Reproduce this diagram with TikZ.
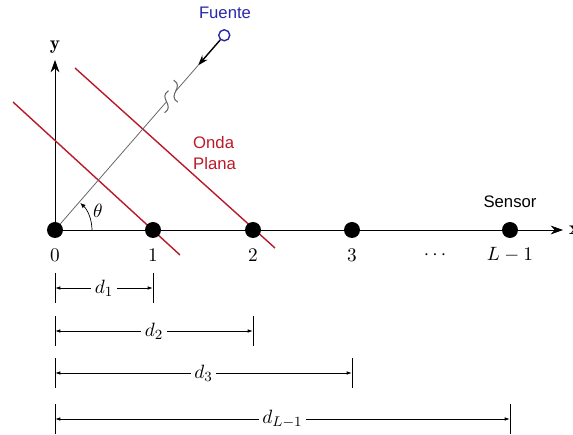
\documentclass[tikz,border=0pt]{standalone}
\usepackage{fontspec}
\newfontfamily\arial{Liberation Sans}
\usetikzlibrary{arrows.meta,calc}
\definecolor{rojo}{RGB}{185,25,40}
\definecolor{azul}{RGB}{40,40,170}
\tikzset{
	sensor/.style={circle, fill=black, minimum size=3.2mm, inner sep=0pt},
	etiqueta/.style={font=\fontsize{11}{13}\selectfont},
	texto/.style={font=\arial\fontsize{9.5}{11.5}\selectfont},
	cota/.style={{Latex[length=3pt,width=2pt]}-{Latex[length=3pt,width=2pt]}, line width=0.5pt},
	frente/.style={rojo, line width=0.8pt},
	rayo/.style={gray!80!black, line width=0.45pt},
}
\begin{document}
\begin{tikzpicture}[x=0.2mm, y=0.2mm]
\useasboundingbox (-55,-205) rectangle (518,230);

% Ejes
\coordinate (O) at (0,0);
\coordinate (ex) at (508,0);
\coordinate (ey) at (0,170);
\draw[-{Stealth[length=7pt,width=5pt]}] (O) -- (ex) node[anchor=west, etiqueta] (nx) {$\mathbf{x}$};
\draw[-{Stealth[length=7pt,width=5pt]}] (O) -- (ey) node[anchor=south, etiqueta] (ny) {$\mathbf{y}$};

% Frentes de onda
\draw[frente] (-42,128) -- (125,-25);
\draw[frente] (20,162) -- (220,-18);
\node[texto, rojo, align=left, anchor=west] (onda) at (132,77) {Onda\\Plana};

% Rayo de la fuente
\node[circle, draw=azul, line width=0.8pt, minimum size=2.2mm, inner sep=0pt] (fuente) at (49:258) {};
\node[texto, azul, anchor=base] (nfuente) at (170,211) {Fuente};
\coordinate (punta) at (49:218);
\coordinate (corte1) at (49:170);
\coordinate (corte2) at (49:184);
\draw[rayo] (O) -- (corte1);
\draw[rayo] (corte2) -- (punta);
\draw[-{Stealth[length=6pt,width=4pt]}, line width=0.8pt] (fuente) -- (punta);
\draw[rayo, line width=0.6pt] ($(corte1)+(2,11)$) .. controls ($(corte1)+(-9,4)$) and ($(corte1)+(9,-4)$) .. ($(corte1)+(-2,-11)$);
\draw[rayo, line width=0.6pt] ($(corte2)+(-2,11)$) .. controls ($(corte2)+(9,4)$) and ($(corte2)+(-9,-4)$) .. ($(corte2)+(2,-11)$);

% Angulo
\draw[-{Latex[length=3pt,width=2.5pt]}, line width=0.4pt] (37,0) arc (0:47:37);
\node[etiqueta] (theta) at (43,19) {$\theta$};

% Sensores
\foreach \i/\x/\t in {0/0/0, 1/98/1, 2/198/2, 3/297/3, 4/455/{L-1}}{
	\node[sensor] (s\i) at (\x,0) {};
	\node[etiqueta] (n\i) at (\x,-25) {$\t$};
}
\node[etiqueta] (puntos) at (380,-25) {$\cdots$};
\node[texto] (nsensor) at (455,28) {Sensor};

% Distancias
\foreach \i/\y/\t in {1/-58/d_1, 2/-101/d_2, 3/-143/d_3, 4/-189/d_{L-1}}{
	\coordinate (a\i) at (0,\y);
	\coordinate (b\i) at (s\i |- a\i);
	\draw[line width=0.5pt] ([yshift=3mm]a\i) -- ([yshift=-3mm]a\i);
	\draw[line width=0.5pt] ([yshift=3mm]b\i) -- ([yshift=-3mm]b\i);
	\draw[cota] (a\i) -- node[etiqueta, fill=white, inner sep=2pt] (m\i) {$\t$} (b\i);
}
\end{tikzpicture}
\end{document}
